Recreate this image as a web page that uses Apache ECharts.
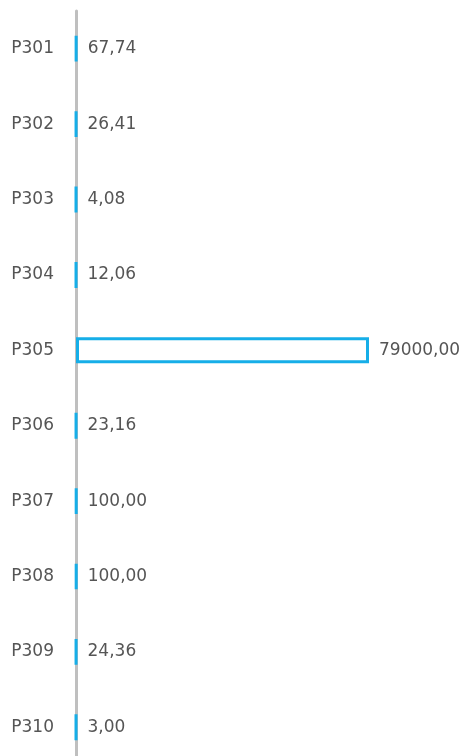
<!DOCTYPE html>
<html>
<head>
<meta charset="utf-8">
<script src="https://cdn.jsdelivr.net/npm/echarts@6/dist/echarts.min.js"></script>
<style>
  html, body { margin: 0; padding: 0; background: #fff; }
  #chart { width: 467px; height: 756px; }
</style>
</head>
<body>
<div id="chart"></div>
<script>
    // categories, top to bottom
    var categories = ['P301', 'P302', 'P303', 'P304', 'P305', 'P306', 'P307', 'P308', 'P309', 'P310'];

    // values
    var values = [67.74, 26.41, 4.08, 12.06, 79000, 23.16, 100, 100, 24.36, 3];

    var myChart = echarts.init(document.getElementById('chart'));

    var option = {
        animation: false,
        textStyle: { fontFamily: 'DejaVu Sans' },
        grid: {
            left: 76, right: 98, top: 11, height: 754,
            containLabel: false,
            outerBoundsMode: 'none'
        },
        xAxis: {
            type: 'value',
            min: 0,
            max: 79000,
            show: false,
            splitLine: { show: false }
        },
        yAxis: {
            type: 'category',
            inverse: true,
            data: categories,
            offset: 3,
            axisLine: { show: true, lineStyle: { color: '#bfbfbf', width: 3 } },
            axisTick: { show: false },
            axisLabel: { color: '#555', fontSize: 17, margin: 19, fontFamily: 'DejaVu Sans' }
        },
        series: [{
            type: 'bar',
            data: values,
            barWidth: 26,
            itemStyle: { color: '#fff', borderColor: '#16aee8', borderWidth: 3 },
            label: {
                show: true,
                position: 'right',
                distance: 10,
                color: '#555',
                fontSize: 17,
                fontFamily: 'DejaVu Sans',
                formatter: function (p) {
                    return p.value.toFixed(2).replace('.', ',');
                }
            }
        }]
    };

    myChart.setOption(option);
</script>
</body>
</html>
